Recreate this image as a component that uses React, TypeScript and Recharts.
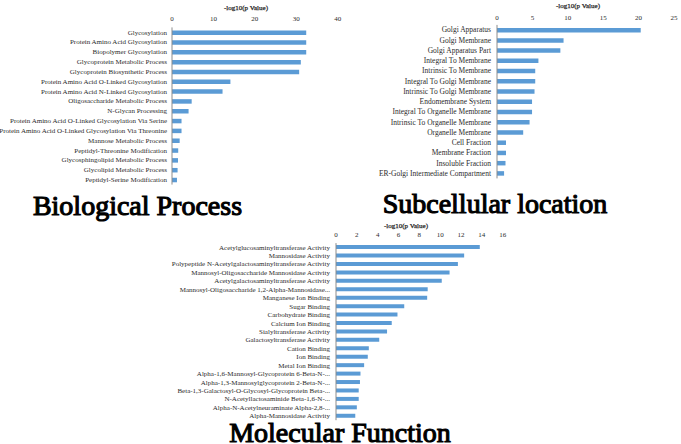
import React from 'react';
import { BarChart, Bar, XAxis, YAxis } from 'recharts';

const bpCategories = [
  'Glycosylation',
  'Protein Amino Acid Glycosylation',
  'Biopolymer Glycosylation',
  'Glycoprotein Metabolic Process',
  'Glycoprotein Biosynthetic Process',
  'Protein Amino Acid O-Linked Glycosylation',
  'Protein Amino Acid N-Linked Glycosylation',
  'Oligosaccharide Metabolic Process',
  'N-Glycan Processing',
  'Protein Amino Acid O-Linked Glycosylation Via Serine',
  'Protein Amino Acid O-Linked Glycosylation Via Threonine',
  'Mannose Metabolic Process',
  'Peptidyl-Threonine Modification',
  'Glycosphingolipid Metabolic Process',
  'Glycolipid Metabolic Process',
  'Peptidyl-Serine Modification',
];
const bpValues = [32.4, 32.4, 32.4, 31.1, 30.7, 14.1, 12.2, 4.75, 4.0, 2.3, 2.3, 1.85, 1.5, 1.45, 1.35, 1.2];
const bpTicks = [0, 10, 20, 30, 40];

const scCategories = [
  'Golgi Apparatus',
  'Golgi Membrane',
  'Golgi Apparatus Part',
  'Integral To Membrane',
  'Intrinsic To Membrane',
  'Integral To Golgi Membrane',
  'Intrinsic To Golgi Membrane',
  'Endomembrane System',
  'Integral To Organelle Membrane',
  'Intrinsic To Organelle Membrane',
  'Organelle Membrane',
  'Cell Fraction',
  'Membrane Fraction',
  'Insoluble Fraction',
  'ER-Golgi Intermediate Compartment',
];
const scValues = [20.3, 9.4, 8.95, 5.85, 5.4, 5.4, 5.3, 4.95, 4.95, 4.6, 3.7, 1.27, 1.27, 1.2, 1.0];
const scTicks = [0, 5, 10, 15, 20, 25];

const mfCategories = [
  'Acetylglucosaminyltransferase Activity',
  'Mannosidase Activity',
  'Polypeptide N-Acetylgalactosaminyltransferase Activity',
  'Mannosyl-Oligosaccharide Mannosidase Activity',
  'Acetylgalactosaminyltransferase Activity',
  'Mannosyl-Oligosaccharide 1,2-Alpha-Mannosidase...',
  'Manganese Ion Binding',
  'Sugar Binding',
  'Carbohydrate Binding',
  'Calcium Ion Binding',
  'Sialyltransferase Activity',
  'Galactosyltransferase Activity',
  'Cation Binding',
  'Ion Binding',
  'Metal Ion Binding',
  'Alpha-1,6-Mannosyl-Glycoprotein 6-Beta-N-...',
  'Alpha-1,3-Mannosylglycoprotein 2-Beta-N-...',
  'Beta-1,3-Galactosyl-O-Glycosyl-Glycoprotein Beta-...',
  'N-Acetyllactosaminide Beta-1,6-N-...',
  'Alpha-N-Acetylneuraminate Alpha-2,8-...',
  'Alpha-Mannosidase Activity',
];
const mfValues = [13.8, 12.3, 11.7, 10.9, 10.15, 8.8, 8.75, 6.55, 5.9, 5.35, 4.9, 4.15, 3.15, 3.05, 2.7, 2.35, 2.3, 2.18, 2.18, 2.0, 1.85];
const mfTicks = [0, 2, 4, 6, 8, 10, 12, 14, 16];

const panelTitles = ['Biological Process', 'Subcellular location', 'Molecular Function'];
const axisTitle = '-log10(p Value)';

const bpData = bpCategories.map((name, i) => ({ name, value: bpValues[i] }));
const scData = scCategories.map((name, i) => ({ name, value: scValues[i] }));
const mfData = mfCategories.map((name, i) => ({ name, value: mfValues[i] }));

const SERIF = '"Liberation Serif", "Times New Roman", serif';
const BAR = '#5B9BD5';
const TEXT = '#2b2b2b';

const makeCatTick = (fontSize: number) => (props: any) => {
  const { x, y, payload } = props;
  return (
    <text x={x} y={y} dy={fontSize * 0.33} textAnchor="end" fontSize={fontSize} fontFamily={SERIF} fill={TEXT}>
      {payload.value}
    </text>
  );
};

const makeNumTick = (fontSize: number) => (props: any) => {
  const { x, y, payload } = props;
  return (
    <text x={x} y={y} textAnchor="middle" fontSize={fontSize} fontFamily={SERIF} fill={TEXT}>
      {payload.value}
    </text>
  );
};

type PanelProps = {
  data: { name: string; value: number }[];
  ticks: number[];
  left: number;
  top: number;
  width: number;
  height: number;
  margin: { top: number; right: number; bottom: number; left: number };
  yWidth: number;
  xHeight: number;
  xTickMargin: number;
  yTickMargin: number;
  catFont: number;
  barSize: number;
};

function Panel(p: PanelProps) {
  return (
    <div style={{ position: 'absolute', left: p.left, top: p.top }}>
      <BarChart width={p.width} height={p.height} data={p.data} layout="vertical" margin={p.margin}>
        <XAxis
          type="number"
          orientation="top"
          domain={[p.ticks[0], p.ticks[p.ticks.length - 1]]}
          ticks={p.ticks}
          interval={0}
          axisLine={false}
          tickLine={false}
          tickSize={0}
          tickMargin={p.xTickMargin}
          height={p.xHeight}
          tick={makeNumTick(7)}
        />
        <YAxis
          type="category"
          dataKey="name"
          width={p.yWidth}
          interval={0}
          tickLine={false}
          tickSize={0}
          tickMargin={p.yTickMargin}
          axisLine={{ stroke: '#8c8c8c', strokeWidth: 1 }}
          tick={makeCatTick(p.catFont)}
        />
        <Bar dataKey="value" fill={BAR} barSize={p.barSize} isAnimationActive={false} />
      </BarChart>
    </div>
  );
}

export default function App() {
  return (
    <div style={{ position: 'absolute', left: 0, top: 0, width: 681, height: 444, background: '#fff', overflow: 'hidden' }}>
      <Panel
        data={bpData}
        ticks={bpTicks}
        left={0}
        top={0}
        width={345}
        height={190}
        margin={{ top: 7.4, right: 7.3, bottom: 5.4, left: 0 }}
        yWidth={172}
        xHeight={20}
        xTickMargin={6}
        yTickMargin={5}
        catFont={7}
        barSize={4.5}
      />
      <Panel
        data={scData}
        ticks={scTicks}
        left={340}
        top={0}
        width={341}
        height={190}
        margin={{ top: 6.9, right: 7, bottom: 11.6, left: 0 }}
        yWidth={157}
        xHeight={18}
        xTickMargin={5.2}
        yTickMargin={6}
        catFont={7.5}
        barSize={4.5}
      />
      <Panel
        data={mfData}
        ticks={mfTicks}
        left={0}
        top={220}
        width={510}
        height={210}
        margin={{ top: 5.1, right: 7.3, bottom: 9.8, left: 0 }}
        yWidth={336}
        xHeight={18}
        xTickMargin={6.4}
        yTickMargin={6}
        catFont={7}
        barSize={4}
      />
      <svg width={681} height={444} style={{ position: 'absolute', left: 0, top: 0, pointerEvents: 'none' }}>
        <g fontFamily="Liberation Serif" fontWeight="normal">
          <g fill={TEXT} stroke={TEXT} strokeWidth={0.25} fontSize={7} textAnchor="middle">
            <text x={246} y={9.5}>{axisTitle}</text>
            <text x={578} y={7.5}>{axisTitle}</text>
            <text x={406} y={227.5}>{axisTitle}</text>
          </g>
          <g fill="#000" stroke="#000" strokeWidth={1.1} fontSize={28} textAnchor="middle">
            <text x={137.5} y={215}>{panelTitles[0]}</text>
            <text x={495} y={213}>{panelTitles[1]}</text>
            <text x={340} y={442}>{panelTitles[2]}</text>
          </g>
        </g>
      </svg>
    </div>
  );
}
